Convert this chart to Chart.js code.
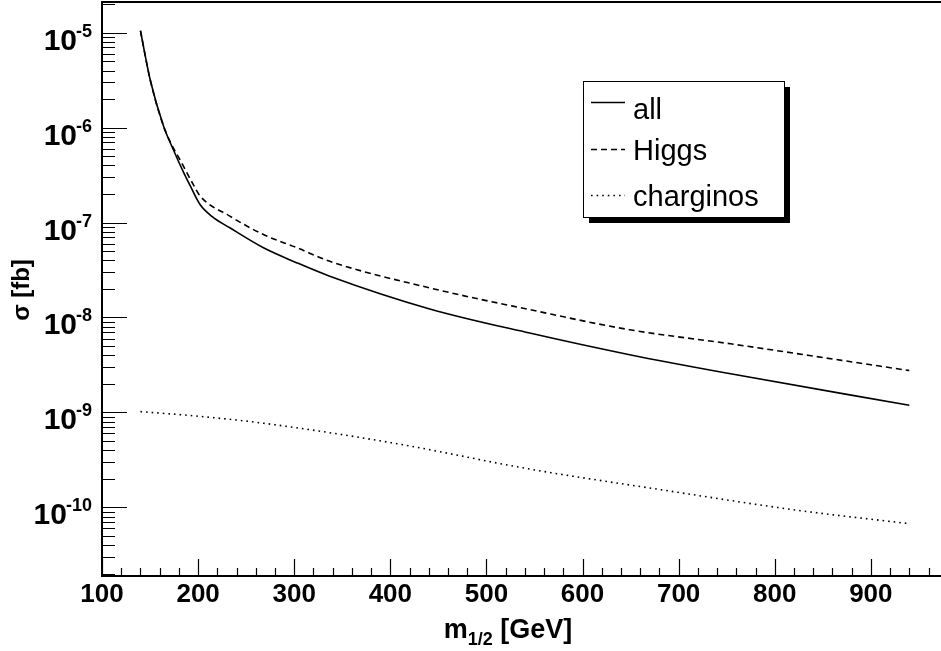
<!DOCTYPE html>
<html>
<head>
<meta charset="utf-8">
<script src="https://cdn.jsdelivr.net/npm/chart.js@4/dist/chart.umd.min.js"></script>
<style>
  html, body { margin: 0; padding: 0; background: #fff; overflow: hidden; }
  #plot { display: block; }
</style>
</head>
<body>
<canvas id="plot" width="941" height="651"></canvas>
<script>
"use strict";

// --- Data --------------------------------------------------------------------

const allX = [140, 150, 164, 174, 185, 192, 202, 215, 233, 268, 303, 337, 441, 545, 649, 754, 940];
const allY = [1.05e-5, 3.24e-6, 1.04e-6, 5.92e-7, 3.36e-7, 2.42e-7, 1.55e-7, 1.15e-7, 8.81e-8,
              5.42e-8, 3.76e-8, 2.72e-8, 1.23e-8, 6.85e-9, 4.05e-9, 2.55e-9, 1.19e-9];

const higgsX = [140, 150, 164, 174, 181, 195, 202, 233, 268, 303, 337, 441, 545, 649, 754, 940];
const higgsY = [1.05e-5, 3.24e-6, 1.04e-6, 6.17e-7, 4.62e-7, 2.51e-7, 1.91e-7, 1.17e-7, 7.48e-8,
                5.42e-8, 3.91e-8, 2.05e-8, 1.21e-8, 7.43e-9, 5.28e-9, 2.76e-9];

const charginoX = [140, 200, 268, 407, 545, 684, 823, 938];
const charginoY = [1.02e-9, 9.12e-10, 7.69e-10, 4.68e-10, 2.53e-10, 1.52e-10, 9.33e-11, 6.76e-11];

const seriesNames = ["all", "Higgs", "charginos"];
const xTickValues = [100, 200, 300, 400, 500, 600, 700, 800, 900];
const yDecades = [-5, -6, -7, -8, -9, -10];

const X_MIN = 100, X_MAX = 973;
const Y_MIN = 1.89e-11, Y_MAX = 2.16e-5;

const FONT = "'Liberation Sans', Arial, Helvetica, sans-serif";
const pts = (xs, ys) => xs.map((x, i) => ({ x, y: ys[i] }));

// --- Frame, ticks, labels, legend (ROOT style) -------------------------------

const rootFrame = {
  id: "rootFrame",
  afterDraw(chart) {
    const { ctx, chartArea: a, scales: { x, y } } = chart;
    ctx.save();
    ctx.strokeStyle = "#000";
    ctx.fillStyle = "#000";

    // axis lines + top border
    ctx.lineWidth = 2;
    ctx.beginPath();
    ctx.moveTo(a.left, a.top + 1);
    ctx.lineTo(a.right, a.top + 1);
    ctx.moveTo(a.left, a.top);
    ctx.lineTo(a.left, a.bottom);
    ctx.lineTo(a.right, a.bottom);
    ctx.stroke();

    // x ticks, pointing into the frame
    ctx.lineWidth = 1.2;
    ctx.beginPath();
    for (let v = X_MIN; v <= X_MAX; v += 20) {
      const px = Math.round(x.getPixelForValue(v)) + 0.5;
      const len = v % 100 === 0 ? 17 : 8;
      ctx.moveTo(px, a.bottom);
      ctx.lineTo(px, a.bottom - len);
    }
    // y ticks on the log axis
    for (let d = -11; d <= -5; d++) {
      for (let m = 1; m <= 9; m++) {
        const v = m * Math.pow(10, d);
        if (v < Y_MIN || v > Y_MAX) continue;
        const py = Math.round(y.getPixelForValue(v)) + 0.5;
        const len = m === 1 ? 25 : 13;
        ctx.moveTo(a.left, py);
        ctx.lineTo(a.left + len, py);
      }
    }
    ctx.stroke();

    // x tick labels
    ctx.font = `bold 26px ${FONT}`;
    ctx.textAlign = "center";
    ctx.textBaseline = "alphabetic";
    xTickValues.forEach((v) => {
      ctx.fillText(String(v), x.getPixelForValue(v), 602);
    });

    // y tick labels: 10 with a raised exponent
    yDecades.forEach((d) => {
      const py = y.getPixelForValue(Math.pow(10, d));
      const exp = String(d);
      ctx.font = `bold 18px ${FONT}`;
      const ew = ctx.measureText(exp).width;
      ctx.textAlign = "right";
      ctx.fillText(exp, 92, py + 4);
      ctx.font = `bold 30px ${FONT}`;
      ctx.fillText("10", 92 - ew + 1, py + 17);
    });

    // axis titles
    ctx.textAlign = "left";
    const big = `bold 27px ${FONT}`, small = `bold 18px ${FONT}`;
    const t1 = "m", t2 = "1/2", t3 = " [GeV]";
    ctx.font = big;
    const w1 = ctx.measureText(t1).width;
    const w3 = ctx.measureText(t3).width;
    ctx.font = small;
    const w2 = ctx.measureText(t2).width;
    const tx = 508 - (w1 + w2 + w3) / 2;
    ctx.font = big;
    ctx.fillText(t1, tx, 638);
    ctx.font = small;
    ctx.fillText(t2, tx + w1, 645);
    ctx.font = big;
    ctx.fillText(t3, tx + w1 + w2, 638);

    ctx.save();
    ctx.translate(29, 290);
    ctx.rotate(-Math.PI / 2);
    ctx.textAlign = "center";
    ctx.font = `bold 24px ${FONT}`;
    ctx.fillText("\u03c3 [fb]", 0, 0);
    ctx.restore();

    // legend box with drop shadow
    const bx = 583, by = 81, bw = 201, bh = 136;
    ctx.fillRect(bx + 6, by + 6, bw, bh);
    ctx.fillStyle = "#fff";
    ctx.fillRect(bx, by, bw, bh);
    ctx.lineWidth = 1;
    ctx.strokeRect(bx + 0.5, by + 0.5, bw, bh);

    const rowsLine = [102, 149, 195];
    const rowsText = [119, 160, 206];
    ctx.fillStyle = "#000";
    ctx.font = `29px ${FONT}`;
    ctx.textAlign = "left";
    chart.data.datasets.forEach((ds, i) => {
      ctx.lineWidth = ds.borderWidth;
      ctx.setLineDash(ds.borderDash || []);
      ctx.beginPath();
      ctx.moveTo(591, rowsLine[i] + 0.5);
      ctx.lineTo(625, rowsLine[i] + 0.5);
      ctx.stroke();
      ctx.setLineDash([]);
      ctx.fillText(ds.label, 633, rowsText[i]);
    });
    ctx.restore();
  },
};

// --- Chart -------------------------------------------------------------------

const lineStyle = {
  borderColor: "#000",
  pointRadius: 0,
  fill: false,
  cubicInterpolationMode: "monotone",
};

new Chart(document.getElementById("plot"), {
  type: "line",
  data: {
    datasets: [
      { ...lineStyle, label: seriesNames[0], data: pts(allX, allY), borderWidth: 1.6 },
      { ...lineStyle, label: seriesNames[1], data: pts(higgsX, higgsY), borderWidth: 1.6, borderDash: [6, 4] },
      { ...lineStyle, label: seriesNames[2], data: pts(charginoX, charginoY), borderWidth: 1.6, borderDash: [1.6, 4] },
    ],
  },
  options: {
    responsive: false,
    animation: false,
    layout: { padding: { left: 102, top: 1, right: 0, bottom: 75 } },
    plugins: { legend: { display: false }, tooltip: { enabled: false } },
    scales: {
      x: { type: "linear", display: false, min: X_MIN, max: X_MAX },
      y: { type: "logarithmic", display: false, min: Y_MIN, max: Y_MAX },
    },
  },
  plugins: [rootFrame],
});
</script>
</body>
</html>
